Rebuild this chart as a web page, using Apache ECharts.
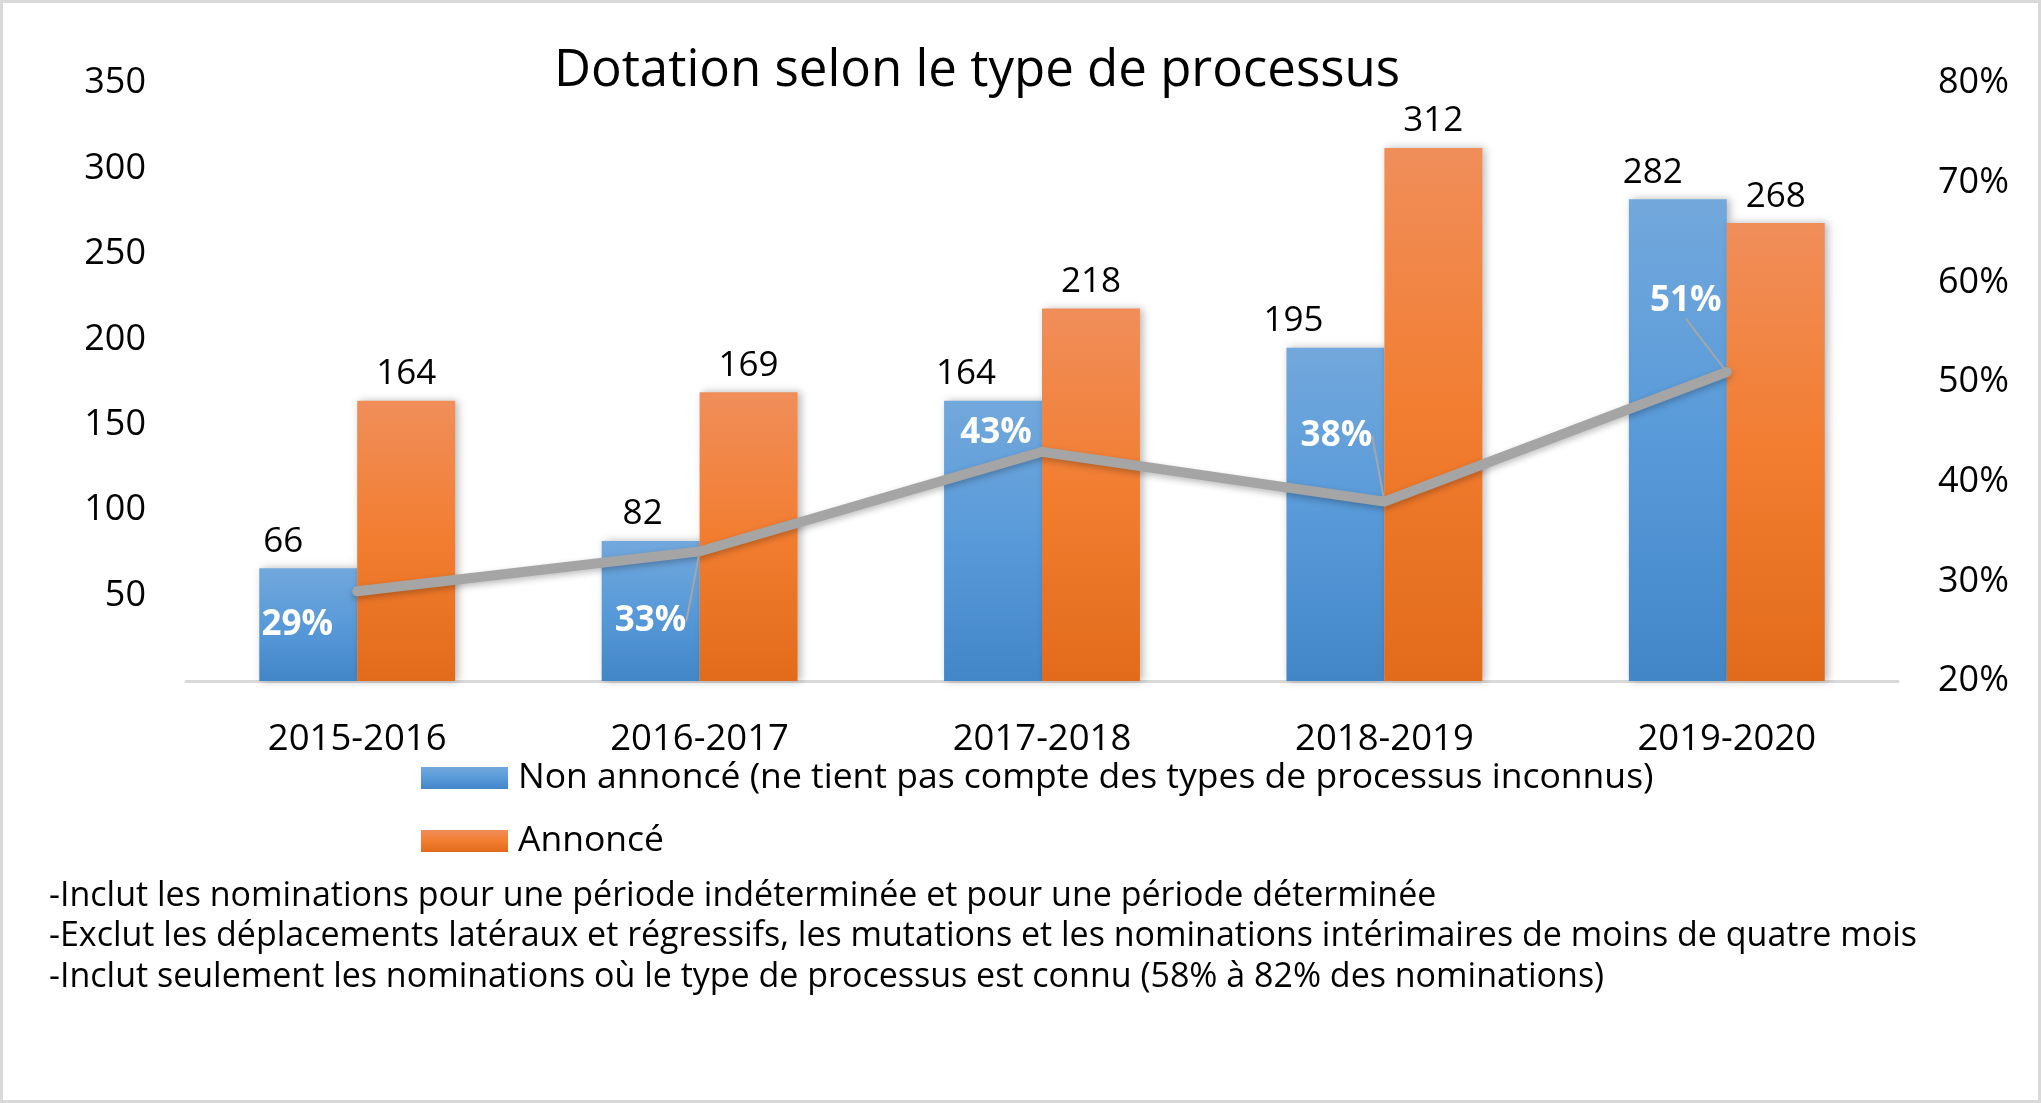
<!DOCTYPE html>
<html>
<head>
<meta charset="utf-8">
<script src="https://cdn.jsdelivr.net/npm/echarts@6/dist/echarts.min.js"></script>
<style>
  html, body { margin: 0; padding: 0; background: #fff; }
  #chart { width: 2041px; height: 1103px; box-sizing: border-box; border: 3px solid #d9d9d9; }
</style>
</head>
<body>
<div id="chart"></div>
<script>
const categories = ['2015-2016', '2016-2017', '2017-2018', '2018-2019', '2019-2020'];
const nonAnnonce = [66, 82, 164, 195, 282];
const annonce = [164, 169, 218, 312, 268];
const pctNonAnnonce = [29, 33, 43, 38, 51];
const leftTicks = { min: 0, max: 350, interval: 50 };
const rightTicks = { min: 20, max: 80, interval: 10 };
const titleText = 'Dotation selon le type de processus';
const legendNames = ['Non annoncé (ne tient pas compte des types de processus inconnus)', 'Annoncé'];
const notes = [
  '-Inclut les nominations pour une période indéterminée et pour une période déterminée',
  '-Exclut les déplacements latéraux et régressifs, les mutations et les nominations intérimaires de moins de quatre mois',
  '-Inclut seulement les nominations où le type de processus est connu (58% à 82% des nominations)'
];

// style-only arrays (label nudges, as in the original layout)
const blueLabelShift = [-25, -8, -27, -42, -25];
const pctLabelShift = [[-60, 34], [-49, 70], [-46, -19], [-48, -66], [-41, -71]];
const pctLeader = [false, true, false, true, true];

const FONT = 'Open Sans';
const chart = echarts.init(document.getElementById('chart'), null, { renderer: 'canvas' });

const blueGrad = new echarts.graphic.LinearGradient(0, 0, 0, 1, [
  { offset: 0, color: '#72a8dc' },
  { offset: 0.5, color: '#589ad9' },
  { offset: 1, color: '#4386c8' }
]);
const orangeGrad = new echarts.graphic.LinearGradient(0, 0, 0, 1, [
  { offset: 0, color: '#f08e5a' },
  { offset: 0.5, color: '#f27d30' },
  { offset: 1, color: '#e26b1b' }
]);

const option = {
  backgroundColor: '#fff',
  animation: false,
  textStyle: { fontFamily: FONT },
  title: {
    text: titleText,
    left: 551,
    top: 36,
    padding: 0,
    textStyle: { fontFamily: FONT, fontSize: 51, fontWeight: 'normal', color: '#000', lineHeight: 64 }
  },
  legend: {
    orient: 'vertical',
    left: 418,
    top: 755,
    padding: 0,
    itemWidth: 87,
    itemHeight: 22,
    itemGap: 23,
    icon: 'rect',
    data: legendNames,
    textStyle: { fontFamily: FONT, fontSize: 35.5, color: '#000', lineHeight: 40, padding: [0, 0, 0, 5] }
  },
  grid: { left: 183, right: 140, top: 80, bottom: 419, containLabel: false },
  xAxis: {
    type: 'category',
    data: categories,
    axisLine: { show: true, lineStyle: { color: '#d9d9d9', width: 3 } },
    axisTick: { show: false },
    axisLabel: { fontFamily: FONT, fontSize: 36.5, color: '#000', margin: 40 }
  },
  yAxis: [
    {
      type: 'value',
      min: leftTicks.min, max: leftTicks.max, interval: leftTicks.interval,
      axisLine: { show: false }, axisTick: { show: false }, splitLine: { show: false },
      axisLabel: { fontFamily: FONT, fontSize: 36, color: '#000', margin: 40,
        formatter: v => (v === 0 ? '' : v) }
    },
    {
      type: 'value',
      min: rightTicks.min, max: rightTicks.max, interval: rightTicks.interval,
      axisLine: { show: false }, axisTick: { show: false }, splitLine: { show: false },
      axisLabel: { fontFamily: FONT, fontSize: 36, color: '#000', margin: 40, formatter: '{value}%' }
    }
  ],
  series: [
    {
      name: legendNames[0],
      type: 'bar',
      barWidth: '28.6%',
      barGap: '0%',
      itemStyle: { color: blueGrad, shadowColor: 'rgba(0,0,0,0.28)', shadowBlur: 8, shadowOffsetX: 3 },
      data: nonAnnonce.map((v, i) => ({
        value: v,
        label: { offset: [blueLabelShift[i], 0] }
      })),
      label: { show: true, position: 'top', distance: 9, fontFamily: FONT, fontSize: 35, color: '#000' }
    },
    {
      name: legendNames[1],
      type: 'bar',
      barWidth: '28.6%',
      barGap: '0%',
      itemStyle: { color: orangeGrad, shadowColor: 'rgba(0,0,0,0.28)', shadowBlur: 8, shadowOffsetX: 3 },
      data: annonce,
      label: { show: true, position: 'top', distance: 9, fontFamily: FONT, fontSize: 35, color: '#000' }
    },
    {
      name: 'pct',
      type: 'line',
      yAxisIndex: 1,
      z: 5,
      symbol: 'circle',
      symbolSize: 2,
      itemStyle: { color: '#a5a5a5' },
      lineStyle: { color: '#a5a5a5', width: 10, cap: 'round', join: 'miter',
        shadowColor: 'rgba(0,0,0,0.25)', shadowBlur: 6, shadowOffsetY: 3 },
      data: pctNonAnnonce.map((v, i) => ({
        value: v,
        labelLine: { show: pctLeader[i] }
      })),
      label: {
        show: true, position: 'inside', formatter: '{c}%',
        fontFamily: FONT, fontSize: 35, fontWeight: 'bold', color: '#fff'
      },
      labelLine: { show: true, lineStyle: { color: '#a6a6a6', width: 2 } },
      labelLayout: p => ({ dx: pctLabelShift[p.dataIndex][0], dy: pctLabelShift[p.dataIndex][1] })
    }
  ],
  graphic: notes.map((t, i) => ({
    type: 'text',
    left: 46,
    top: 876 + i * 40.5,
    silent: true,
    style: { text: t, fontFamily: FONT, fontSize: 34, fill: '#000' }
  }))
};
chart.setOption(option);
</script>
</body>
</html>
